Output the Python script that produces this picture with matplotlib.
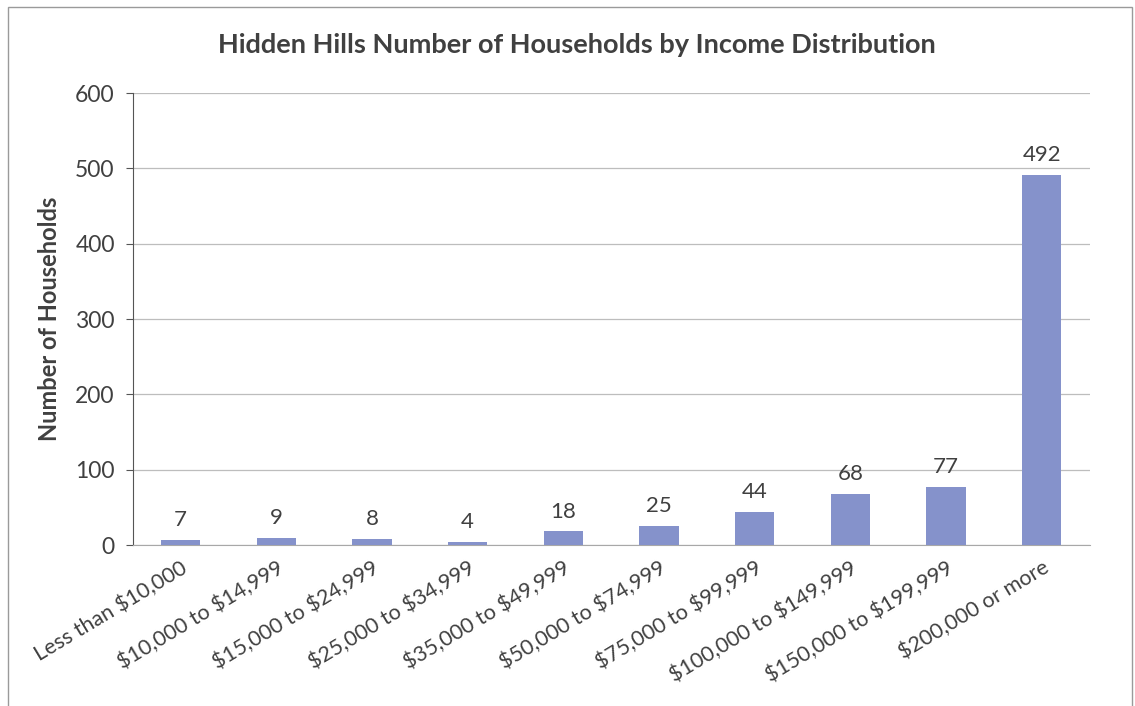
import matplotlib
matplotlib.use("Agg")
import matplotlib.pyplot as plt
from matplotlib.patches import Rectangle
from matplotlib.transforms import ScaledTranslation

# Household counts by income bracket
categories = [
    "Less than $10,000",
    "$10,000 to $14,999",
    "$15,000 to $24,999",
    "$25,000 to $34,999",
    "$35,000 to $49,999",
    "$50,000 to $74,999",
    "$75,000 to $99,999",
    "$100,000 to $149,999",
    "$150,000 to $199,999",
    "$200,000 or more",
]
households = [7, 9, 8, 4, 18, 25, 44, 68, 77, 492]
y_ticks = [0, 100, 200, 300, 400, 500, 600]

plt.rcParams["font.family"] = ["Lato", "DejaVu Sans"]
plt.rcParams["text.parse_math"] = False
text_color = "#404040"
bar_color = "#8592CB"

fig = plt.figure(figsize=(11.35, 7.06), dpi=100)
ax = fig.add_axes([0.117, 0.228, 0.843, 0.640])

x = list(range(len(categories)))
ax.bar(x, households, width=0.41, color=bar_color, zorder=3)

for xi, v in zip(x, households):
    ax.text(xi, v + 13, str(v), ha="center", va="bottom",
            fontsize=16, color=text_color)

ax.set_xlim(-0.5, len(categories) - 0.5)
ax.set_ylim(0, 600)
ax.set_yticks(y_ticks)
ax.set_yticklabels([str(t) for t in y_ticks], fontsize=16.5, color=text_color)
ax.set_xticks(x)
ax.set_xticklabels(categories, rotation=31, ha="right", rotation_mode="anchor",
                   fontsize=15.5, color=text_color)
shift = ScaledTranslation(0.07, 0, fig.dpi_scale_trans)
for lbl in ax.get_xticklabels():
    lbl.set_transform(lbl.get_transform() + shift)
ax.tick_params(axis="x", length=0, pad=9)
ax.tick_params(axis="y", length=5, direction="out", color="#555555", pad=8)

ax.yaxis.grid(True, color="#BDBDBD", linewidth=0.9, zorder=0)
ax.set_axisbelow(True)
for side in ("top", "right"):
    ax.spines[side].set_visible(False)
ax.spines["left"].set_color("#555555")
ax.spines["bottom"].set_color("#A8A8A8")

ax.set_ylabel("Number of Households", fontsize=17, fontweight="bold",
              color=text_color, labelpad=10)
fig.text(0.508, 0.936, "Hidden Hills Number of Households by Income Distribution",
         ha="center", va="center", fontsize=19.5, fontweight="bold", color=text_color)

# thin chart-area frame
fig.patches.append(Rectangle((0.007, -0.01), 0.99, 1.0, transform=fig.transFigure,
                             fill=False, edgecolor="#9A9A9A", linewidth=1.0))

fig.savefig("out.png", dpi=100, facecolor="white")
